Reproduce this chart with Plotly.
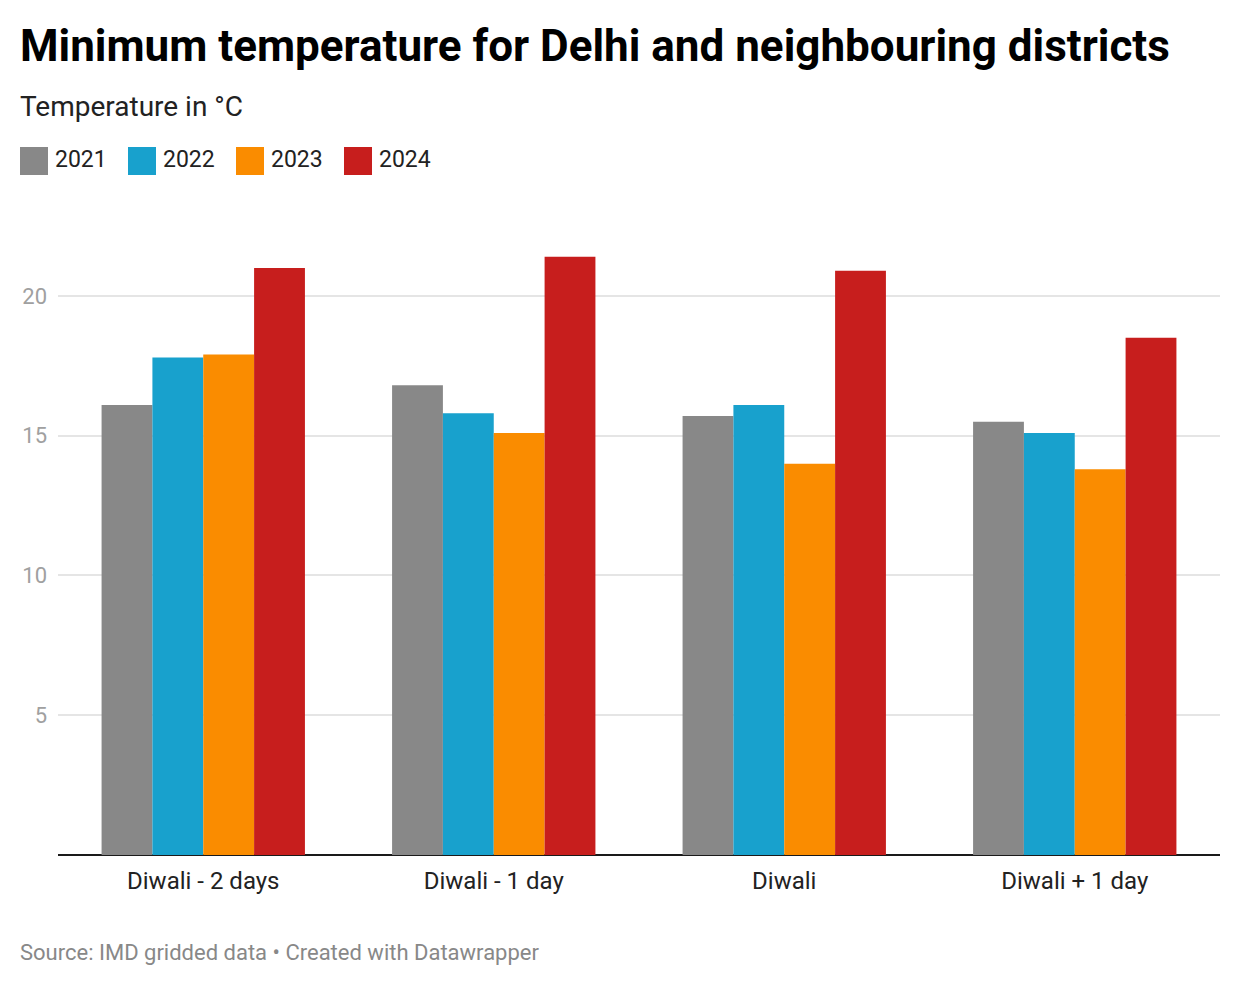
import plotly.graph_objects as go

categories = ["Diwali - 2 days", "Diwali - 1 day", "Diwali", "Diwali + 1 day"]
years = ["2021", "2022", "2023", "2024"]
values_2021 = [16.1, 16.8, 15.7, 15.5]
values_2022 = [17.8, 15.8, 16.1, 15.1]
values_2023 = [17.9, 15.1, 14.0, 13.8]
values_2024 = [21.0, 21.4, 20.9, 18.5]
series = [values_2021, values_2022, values_2023, values_2024]
colors = ["#888888", "#18a1cd", "#fa8c00", "#c71e1d"]
y_ticks = [5, 10, 15, 20]

W, H = 1240, 988
L, R, T, B = 58, 20, 240, 133
PW, PH = W - L - R, H - T - B

def px(x):
    return (x - L) / PW

def py(y):
    return (H - B - y) / PH

FONT = "Roboto"

fig = go.Figure()
for name, vals, col in zip(years, series, colors):
    fig.add_trace(go.Bar(x=categories, y=vals, name=name, marker=dict(color=col, line=dict(width=0)),
                         showlegend=False, hoverinfo="x+y+name"))

annotations = [
    dict(text="<b>Minimum temperature for Delhi and neighbouring districts</b>", x=px(18), y=py(46),
         xanchor="left", yanchor="middle", font=dict(family=FONT, size=44, color="#000000")),
    dict(text="Temperature in °C", x=px(18), y=py(107), xanchor="left", yanchor="middle",
         font=dict(family=FONT, size=28, color="#222222")),
    dict(text="Source: IMD gridded data • Created with Datawrapper", x=px(18), y=py(952),
         xanchor="left", yanchor="middle", font=dict(family=FONT, size=22, color="#888888")),
]
shapes = []
legend_x = [20, 128, 236, 344]
for lx, name, col in zip(legend_x, years, colors):
    shapes.append(dict(type="rect", xref="paper", yref="paper", x0=px(lx), x1=px(lx + 28),
                       y0=py(147), y1=py(175), fillcolor=col, line=dict(width=0)))
    annotations.append(dict(text=name, x=px(lx + 33), y=py(160), xanchor="left", yanchor="middle",
                            font=dict(family=FONT, size=23, color="#222222")))
for a in annotations:
    a.update(xref="paper", yref="paper", showarrow=False)

fig.update_layout(
    width=W, height=H, margin=dict(l=L, r=R, t=T, b=B, pad=0),
    paper_bgcolor="white", plot_bgcolor="white",
    barmode="group", bargap=0.3, bargroupgap=0,
    annotations=annotations, shapes=shapes,
    font=dict(family=FONT),
    xaxis=dict(showgrid=False, showline=False, ticks="", tickfont=dict(family=FONT, size=24, color="#222222"),
               ticklabelstandoff=9, zeroline=False),
    yaxis=dict(range=[0, 22], tickvals=y_ticks, ticktext=[str(v) for v in y_ticks],
               showgrid=True, gridcolor="#e5e5e5", gridwidth=2, zeroline=True, zerolinecolor="#1a1a1a",
               zerolinewidth=2, showline=False, ticks="", ticklabelstandoff=10,
               tickfont=dict(family=FONT, size=22, color="#a0a0a0")),
)

fig.write_html("out.html")
